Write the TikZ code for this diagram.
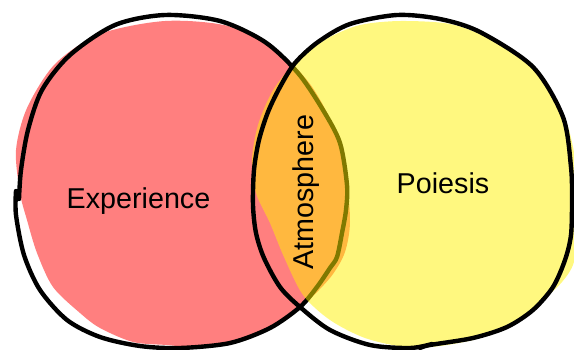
\documentclass[tikz,border=0pt]{standalone}
\usepackage{fontspec}
\setmainfont{Liberation Sans}
\begin{document}
\begin{tikzpicture}[x=1pt,y=-1pt,
  outline/.style={draw=black, line width=4.4pt, line join=round, line cap=round},
  redblob/.style={fill=red, fill opacity=0.5},
  yellowblob/.style={fill=yellow, fill opacity=0.5},
  areatext/.style={inner sep=0pt, text=black, font=\fontsize{28.7}{34}\selectfont}]
\useasboundingbox (0,0) rectangle (574,349);

% Experience: hand-drawn fill
\path[redblob] plot[smooth cycle] coordinates {
  (16,150) (27,108) (55,64) (100,34) (165,21) (228,26) (276,50) (310,84)
  (334,128) (346,175) (350,222) (345,252) (333,274) (315,294) (290,316)
  (250,338) (200,347) (167,345) (133,342) (100,328) (80,313) (53,287)
  (37,253) (27,220) (20,193)};

% Experience: hand-drawn outline, its two ends overlapping on the left
\draw[outline] plot[smooth] coordinates {
  (16,191) (16,215) (24,255) (40,290) (67,320) (100,337) (140,346) (180,348)
  (230,343) (270,328) (300,307) (317,287) (330,268) (337,257) (342,233)
  (346,210) (347,185) (340,143) (323,110) (298,73) (265,42) (220,21)
  (165,15) (115,25) (70,55) (42,90) (28,130) (21,170) (19,199)};

% Poiesis: hand-drawn fill
\path[yellowblob] plot[smooth cycle] coordinates {
  (290,68) (272,92) (258,125) (252,160) (256,193) (270,223) (284,257)
  (303,295) (330,320) (365,338) (405,347) (440,346) (480,338) (515,322)
  (545,298) (562,282) (574,262) (580,220) (577,170) (565,118) (536,70)
  (490,39) (450,24) (400,21) (360,25) (330,37) (308,52)};

% Poiesis: hand-drawn outline, its two ends overlapping at the bottom
\draw[outline] plot[smooth] coordinates {
  (420,348) (430,345) (473,338) (507,327) (533,310) (553,287) (565,260)
  (571,235) (572,200) (571,167) (563,117) (533,67) (480,32) (440,19)
  (397,15) (350,24) (318,42) (295,63) (280,87) (268,112) (259,140)
  (254,170) (253,205) (256,233) (264,258) (280,287) (300,307) (330,330)
  (370,345) (410,348) (432,344)};

% labels
\node[areatext, anchor=base] (experience) at (138.5,208) {Experience};
\node[areatext, anchor=base] (poiesis) at (443,193) {Poiesis};
\node[areatext, anchor=base, rotate=90] (atmosphere) at (313.5,192) {Atmosphere};
\end{tikzpicture}
\end{document}
